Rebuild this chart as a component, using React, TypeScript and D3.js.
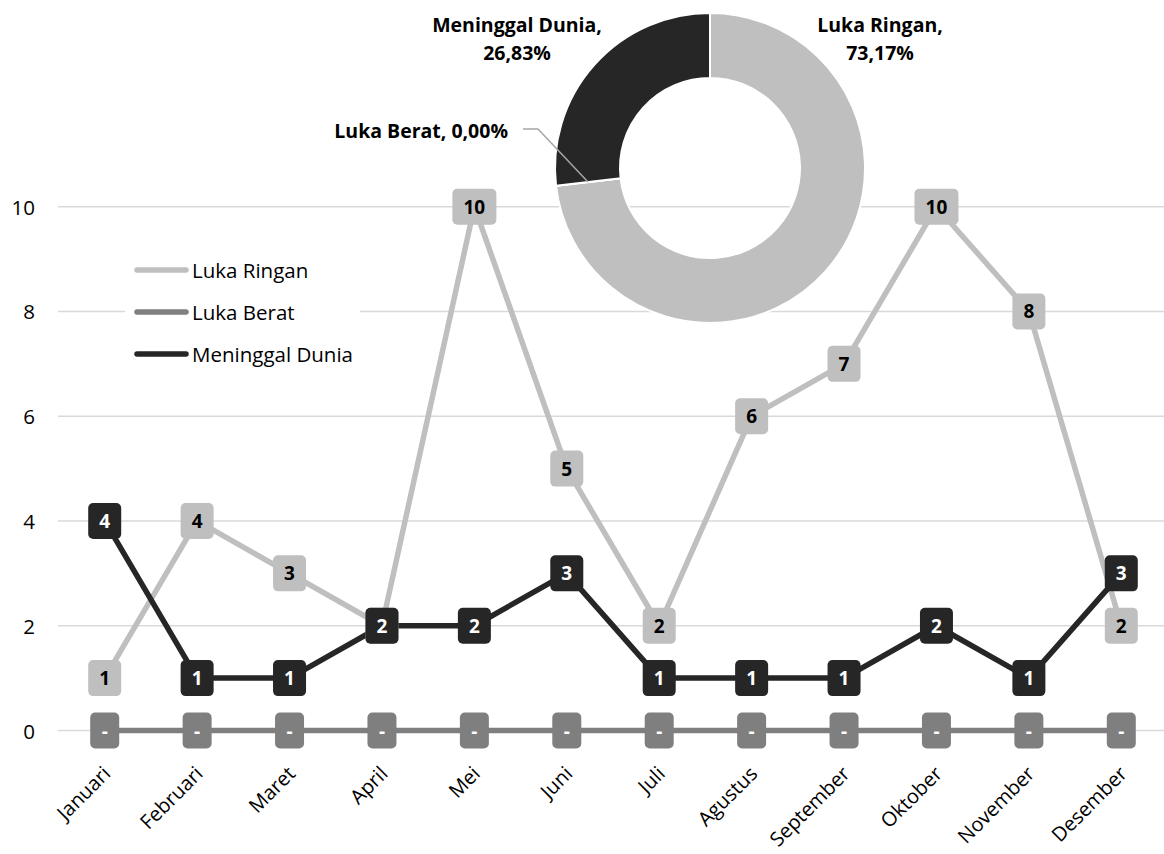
import React from "react";
import * as d3 from "d3";

const months = ["Januari","Februari","Maret","April","Mei","Juni","Juli","Agustus","September","Oktober","November","Desember"];
const lukaRingan = [1,4,3,2,10,5,2,6,7,10,8,2];
const lukaBerat = [0,0,0,0,0,0,0,0,0,0,0,0];
const meninggalDunia = [4,1,1,2,2,3,1,1,1,2,1,3];
const yTicks = [0,2,4,6,8,10];
const seriesNames = ["Luka Ringan","Luka Berat","Meninggal Dunia"];
const seriesColors = ["#BFBFBF","#7F7F7F","#262626"];
const labelTextColors = ["#000000","#FFFFFF","#FFFFFF"];

const FONT = "'Open Sans', 'DejaVu Sans', sans-serif";

export default function App() {
  const W = 1164, H = 854;
  const x = d3.scalePoint<string>().domain(months).range([58.5, 1167.5]).padding(0.5);
  const y = d3.scaleLinear().domain([0, 10]).range([730.5, 206.7]);
  const series = [lukaRingan, lukaBerat, meninggalDunia];
  const lineGen = d3.line<number>().x((_, i) => x(months[i])!).y(d => y(d));

  const totals = series.map(s => d3.sum(s));
  const grand = d3.sum(totals);
  const pieData = d3.pie<number>().sort(null).value(d => d)(totals);
  const cx = 710, cy = 168, rOuter = 155, rInner = 90;
  const arc = d3.arc<d3.PieArcDatum<number>>().innerRadius(rInner).outerRadius(rOuter);
  const pct = (v: number) => ((v / grand) * 100).toFixed(2).replace(".", ",") + "%";

  const labelW = (t: string) => (t === "-" ? 29 : 22 + t.length * 11);

  return (
    <svg width={W} height={H} style={{ position: "absolute", left: 0, top: 0, display: "block", background: "#fff" }} fontFamily={FONT}>
      {yTicks.map(t => (
        <line key={t} x1={58} x2={1164} y1={y(t)} y2={y(t)} stroke="#D9D9D9" strokeWidth={1.5} />
      ))}
      {yTicks.map(t => (
        <text key={"yt" + t} x={35} y={y(t)} textAnchor="end" dominantBaseline="central" fontSize={20.5} fill="#000">{t}</text>
      ))}
      {months.map(m => (
        <text key={m} transform={`translate(${x(m)! + 7},${775}) rotate(-45)`} textAnchor="end" fontSize={20} fill="#000">{m}</text>
      ))}
      <g transform={`translate(${cx},${cy})`}>
        {pieData.map((p, i) => (
          <path key={i} d={arc(p)!} fill={seriesColors[i]} stroke="#fff" strokeWidth={2} />
        ))}
      </g>
      <g fontWeight="bold" fontSize={19.5} fill="#000">
        <text x={880} y={32} textAnchor="middle">{seriesNames[0] + ","}</text>
        <text x={880} y={60} textAnchor="middle">{pct(totals[0])}</text>
        <text x={517} y={32} textAnchor="middle">{seriesNames[2] + ","}</text>
        <text x={517} y={60} textAnchor="middle">{pct(totals[2])}</text>
        <text x={508} y={138} textAnchor="end">{seriesNames[1] + ", " + pct(totals[1])}</text>
      </g>
      <polyline points="523,129 538,129 588,182" fill="none" stroke="#A6A6A6" strokeWidth={1.5} />
      {series.map((s, si) => (
        <path key={"l" + si} d={lineGen(s)!} fill="none" stroke={seriesColors[si]} strokeWidth={5.5} strokeLinejoin="round" strokeLinecap="round" />
      ))}
      {series.map((s, si) => (
        <g key={"dl" + si}>
          {s.map((v, i) => {
            const t = v === 0 ? "-" : String(v);
            const w = labelW(t);
            const px = x(months[i])!, py = y(v);
            return (
              <g key={i}>
                <rect x={px - w / 2} y={py - 18} width={w} height={36} rx={5} fill={seriesColors[si]} />
                <text x={px} y={py} textAnchor="middle" dominantBaseline="central" fontWeight="bold" fontSize={19} fill={labelTextColors[si]}>{t}</text>
              </g>
            );
          })}
        </g>
      ))}
      <rect x={125} y={250} width={235} height={122} fill="#fff" />
      {seriesNames.map((n, i) => (
        <g key={n} transform={`translate(0,${270 + i * 42})`}>
          <line x1={137} x2={186} y1={0} y2={0} stroke={seriesColors[i]} strokeWidth={5.5} strokeLinecap="round" />
          <text x={192} y={0} dominantBaseline="central" fontSize={20.5} fill="#000">{n}</text>
        </g>
      ))}
    </svg>
  );
}
